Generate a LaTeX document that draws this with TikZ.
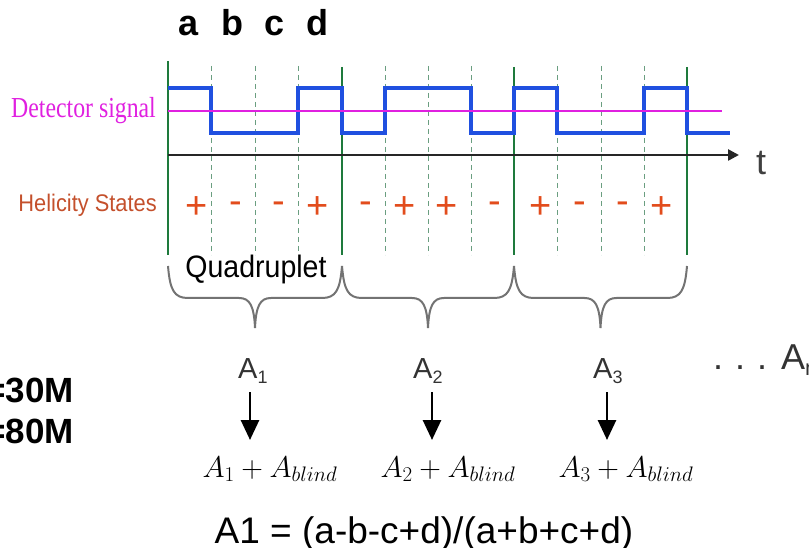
\RequirePackage{fix-cm}
\documentclass[tikz,border=0pt]{standalone}
\usepackage[no-math]{fontspec}
\setmainfont{Liberation Sans}
\newfontfamily\serifx{Liberation Serif}
\usetikzlibrary{arrows.meta}
\definecolor{sigblue}{HTML}{2050E0}
\definecolor{sigmag}{HTML}{E020E0}
\definecolor{qgreen}{HTML}{1E7A3C}
\definecolor{dgreen}{HTML}{6A9E80}
\definecolor{helbrown}{HTML}{C4502C}
\definecolor{signred}{HTML}{E24C1C}
\definecolor{bracegray}{HTML}{737373}
\definecolor{agray}{HTML}{333333}
\newcommand{\fs}[1]{\fontsize{#1}{#1}\selectfont}
\begin{document}
\begin{tikzpicture}[x=1pt,y=-1pt,
  dashline/.style={draw=dgreen,line width=1pt,dash pattern=on 5pt off 4pt},
  quadline/.style={draw=qgreen,line width=2.5pt},
  signal/.style={draw=sigblue,line width=3.2pt,line join=miter},
  meanline/.style={draw=sigmag,line width=2pt},
  axisline/.style={draw=black!85,line width=2.5pt,-{Triangle[width=11pt,length=11pt]}},
  bracestyle/.style={draw=bracegray,line width=2pt},
  letter/.style={font=\fs{36}\bfseries,anchor=base,inner sep=0pt},
  sign/.style={font=\fs{38},text=signred,inner sep=0pt},
  alabel/.style={font=\fs{29},text=agray,anchor=base west,inner sep=0pt},
  sumlabel/.style={font=\fs{30},anchor=base,inner sep=0pt},
  downarrow/.style={draw=black,line width=2.8pt,-{Triangle[width=18pt,length=20pt]}}]
\useasboundingbox (0,0) rectangle (809,548);
% top letters
\node[letter] (la) at (189,36) {a};
\node[letter] (lb) at (232,36) {b};
\node[letter] (lc) at (275,36) {c};
\node[letter] (ld) at (317,36) {d};
% dashed slot lines
\foreach \x in {211,255,298,385,428,471,557,601,644}
  \draw[dashline] (\x,66) -- (\x,255);
% quadruplet boundaries
\draw[quadline] (168,61) -- (168,255);
\foreach \x in {342,514,687}
  \draw[quadline] (\x,67) -- (\x,255);
% time axis
\coordinate (ax0) at (168,155);
\coordinate (ax1) at (739,155);
\draw[axisline] (ax0) -- (ax1);
\node[font=\fs{36},text=black!75,anchor=base,inner sep=0pt] (t) at (761,175) {t};
% detector signal
\draw[signal] (168,88) -- (211,88) -- (211,133) -- (298,133) -- (298,88) -- (342,88)
  -- (342,133) -- (385,133) -- (385,88) -- (471,88) -- (471,133) -- (514,133)
  -- (514,88) -- (557,88) -- (557,133) -- (644,133) -- (644,88) -- (687,88)
  -- (687,133) -- (730,133);
\coordinate (m0) at (168,111);
\coordinate (m1) at (722,111);
\draw[meanline] (m0) -- (m1);
\node[anchor=base east,inner sep=0pt,text=sigmag,font=\serifx\fs{29}] (det) at (156,118)
  {\scalebox{0.82}[1]{Detector signal}};
\node[anchor=base east,inner sep=0pt,text=helbrown,font=\fs{24}] (hel) at (157,212)
  {\scalebox{0.91}[1]{Helicity States}};
% helicity signs
\foreach \x/\s [count=\i] in {197/+,236/-,279/-,318/+,366/-,405/+,447/+,495/-,541/+,580/-,623/-,662/+}
  \node[sign] (s\i) at (\x,208) {\s};
% braces
\foreach \xa/\xb in {168/342,342/514,514/687}{
  \pgfmathsetmacro\xm{(\xa+\xb)/2}
  \draw[bracestyle] (\xa,266) .. controls (\xa+2,290) and (\xa+6,298) .. (\xa+20,298)
    -- (\xm-16,298) .. controls (\xm-5,298) and (\xm-1,306) .. (\xm,328)
    .. controls (\xm+1,306) and (\xm+5,298) .. (\xm+16,298)
    -- (\xb-20,298) .. controls (\xb-6,298) and (\xb-2,290) .. (\xb,266);
}
\node[anchor=base,inner sep=0pt,font=\fs{31}] (quad) at (256,278) {\scalebox{0.92}[1]{Quadruplet}};
% asymmetries
\node[alabel] (A1) at (238,378) {A\raisebox{-5pt}{\fs{18}1}};
\node[alabel] (A2) at (413,378) {A\raisebox{-5pt}{\fs{18}2}};
\node[alabel] (A3) at (593,378) {A\raisebox{-5pt}{\fs{18}3}};
\node[alabel,font=\fs{36}] (An) at (713,369) {.\hspace{12pt}.\hspace{12pt}.\hspace{14pt}A\raisebox{-6pt}{\fs{22}n}};
% arrows
\coordinate (a1s) at (250,392); \coordinate (a1e) at (250,440);
\coordinate (a2s) at (432,392); \coordinate (a2e) at (432,440);
\coordinate (a3s) at (607,392); \coordinate (a3e) at (607,440);
\draw[downarrow] (a1s) -- (a1e);
\draw[downarrow] (a2s) -- (a2e);
\draw[downarrow] (a3s) -- (a3e);
\node[sumlabel] (B1) at (270,477) {$A_1+A_{blind}$};
\node[sumlabel] (B2) at (448,477) {$A_2+A_{blind}$};
\node[sumlabel] (B3) at (626,477) {$A_3+A_{blind}$};
% left texts (cut off as in the source)
\node[anchor=base east,inner sep=0pt,font=\fs{35}\bfseries] (n1) at (74,402) {=30M};
\node[anchor=base east,inner sep=0pt,font=\fs{35}\bfseries] (n2) at (74,443) {=80M};
% bottom formula
\node[anchor=base,inner sep=0pt,font=\fs{37}] (form) at (424,543) {A1 = (a-b-c+d)/(a+b+c+d)};
\end{tikzpicture}
\end{document}
